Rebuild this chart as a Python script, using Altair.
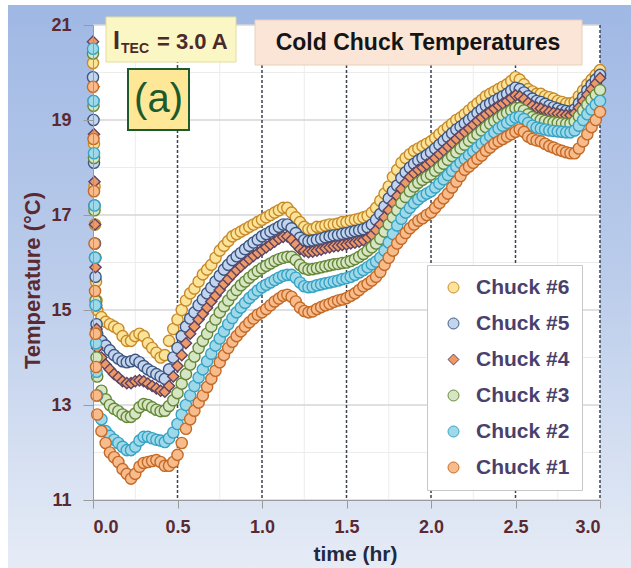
import altair as alt
import pandas as pd

# ---------------- data ----------------
series_names = ["Chuck #6", "Chuck #5", "Chuck #4", "Chuck #3", "Chuck #2", "Chuck #1"]
fill_colors = ["#fbe49a", "#c3d5ee", "#ee9a68", "#d6e6c2", "#9fd9e9", "#f7bb8c"]
stroke_colors = ["#c88a28", "#3d5680", "#5e4462", "#66873a", "#37a3c4", "#c46a26"]
shapes = ["circle", "circle", "diamond", "circle", "circle", "circle"]

start_times = [0.0, 0.003, 0.006, 0.009, 0.012, 0.015, 0.018, 0.021]
step_times = [round(0.025 * k, 3) for k in range(1, 121)]
times = start_times + step_times

chuck6 = [20.2, 19.4, 18.5, 17.6, 16.8, 16.1, 15.6, 15.2,
          15.0, 14.85, 14.75, 14.7, 14.65, 14.6, 14.45, 14.35, 14.35, 14.45,
          14.5, 14.45, 14.3, 14.2, 14.1, 14.0, 14.05, 14.35, 14.6, 14.8,
          15.0, 15.2, 15.35, 15.45, 15.6, 15.75, 15.85, 15.95, 16.1, 16.25,
          16.35, 16.45, 16.55, 16.6, 16.65, 16.7, 16.75, 16.8, 16.85, 16.9,
          16.95, 17.0, 17.05, 17.1, 17.15, 17.15, 17.05, 16.95, 16.85, 16.75,
          16.7, 16.7, 16.75, 16.75, 16.78, 16.8, 16.8, 16.82, 16.85, 16.85,
          16.88, 16.9, 16.92, 16.95, 16.98, 17.05, 17.15, 17.3, 17.45, 17.6,
          17.8, 17.95, 18.1, 18.2, 18.28, 18.35, 18.4, 18.45, 18.5, 18.55,
          18.62, 18.7, 18.78, 18.85, 18.92, 19.0, 19.05, 19.12, 19.2, 19.28,
          19.35, 19.42, 19.5, 19.55, 19.6, 19.65, 19.7, 19.75, 19.82, 19.9,
          19.85, 19.75, 19.65, 19.6, 19.55, 19.55, 19.5, 19.48, 19.45, 19.4,
          19.38, 19.35, 19.35, 19.38, 19.5, 19.62, 19.75, 19.85, 19.95, 20.05]

chuck5 = [19.9, 19.0, 18.1, 17.2, 16.4, 15.7, 15.1, 14.7,
          14.5, 14.35, 14.25, 14.15, 14.05, 13.98, 13.92, 13.9, 13.92, 13.95,
          13.9, 13.82, 13.75, 13.7, 13.65, 13.6, 13.55, 13.75, 14.0, 14.2,
          14.45, 14.65, 14.82, 14.95, 15.1, 15.22, 15.35, 15.47, 15.6, 15.72,
          15.85, 15.95, 16.05, 16.13, 16.2, 16.28, 16.35, 16.42, 16.48, 16.55,
          16.6, 16.65, 16.7, 16.75, 16.8, 16.8, 16.72, 16.62, 16.52, 16.47,
          16.45, 16.46, 16.48, 16.5, 16.53, 16.55, 16.57, 16.58, 16.6, 16.62,
          16.64, 16.66, 16.68, 16.7, 16.74, 16.8, 16.9, 17.02, 17.18, 17.35,
          17.5, 17.62, 17.78, 17.9, 18.0, 18.08, 18.15, 18.2, 18.26, 18.32,
          18.4, 18.48, 18.56, 18.64, 18.72, 18.8, 18.86, 18.93, 19.0, 19.07,
          19.15, 19.22, 19.3, 19.35, 19.4, 19.45, 19.5, 19.55, 19.62, 19.68,
          19.65, 19.58, 19.5, 19.45, 19.4, 19.38, 19.34, 19.3, 19.27, 19.24,
          19.21, 19.19, 19.18, 19.22, 19.35, 19.48, 19.62, 19.74, 19.85, 19.95]

chuck4 = [20.65, 19.7, 18.7, 17.7, 16.8, 15.9, 15.1, 14.6,
          14.2, 14.0, 13.85, 13.75, 13.65, 13.58, 13.5, 13.46, 13.46, 13.5,
          13.52, 13.5, 13.45, 13.4, 13.35, 13.3, 13.28, 13.4, 13.6, 13.82,
          14.05, 14.3, 14.5, 14.65, 14.8, 14.92, 15.05, 15.18, 15.3, 15.42,
          15.55, 15.65, 15.75, 15.84, 15.92, 16.0, 16.07, 16.14, 16.2, 16.26,
          16.32, 16.38, 16.44, 16.5, 16.54, 16.55, 16.48, 16.38, 16.28, 16.24,
          16.22, 16.23, 16.25, 16.27, 16.3, 16.32, 16.34, 16.35, 16.37, 16.38,
          16.4, 16.42, 16.44, 16.47, 16.52, 16.58, 16.68, 16.8, 16.95, 17.1,
          17.25, 17.4, 17.55, 17.68, 17.8, 17.88, 17.95, 18.0, 18.06, 18.12,
          18.2, 18.28, 18.36, 18.44, 18.52, 18.6, 18.68, 18.75, 18.82, 18.9,
          18.98, 19.05, 19.12, 19.18, 19.24, 19.3, 19.35, 19.4, 19.46, 19.52,
          19.5, 19.44, 19.36, 19.3, 19.26, 19.24, 19.2, 19.17, 19.15, 19.13,
          19.11, 19.1, 19.1, 19.14, 19.26, 19.4, 19.53, 19.65, 19.77, 19.88]

chuck3 = [20.4, 19.3, 18.2, 17.1, 16.1, 15.2, 14.5, 14.0,
          13.6, 13.3, 13.12, 13.0, 12.92, 12.87, 12.8, 12.75, 12.75, 12.82,
          12.95, 13.02, 13.0, 12.95, 12.9, 12.87, 12.88, 12.98, 13.1, 13.25,
          13.45, 13.65, 13.85, 14.02, 14.2, 14.35, 14.5, 14.65, 14.8, 14.95,
          15.08, 15.2, 15.32, 15.42, 15.52, 15.6, 15.68, 15.75, 15.82, 15.88,
          15.93, 15.98, 16.03, 16.07, 16.1, 16.12, 16.12, 16.05, 15.95, 15.88,
          15.85, 15.86, 15.88, 15.9, 15.92, 15.94, 15.96, 15.97, 15.99, 16.0,
          16.03, 16.07, 16.12, 16.18, 16.25, 16.32, 16.4, 16.5, 16.65, 16.8,
          16.95, 17.1, 17.25, 17.38, 17.5, 17.6, 17.68, 17.74, 17.8, 17.85,
          17.93, 18.0, 18.08, 18.16, 18.24, 18.32, 18.4, 18.48, 18.56, 18.63,
          18.7, 18.78, 18.85, 18.92, 18.98, 19.04, 19.1, 19.15, 19.2, 19.25,
          19.25, 19.2, 19.12, 19.06, 19.02, 19.0, 18.98, 18.96, 18.95, 18.94,
          18.93, 18.92, 18.92, 18.97, 19.08, 19.2, 19.32, 19.43, 19.53, 19.63]

chuck2 = [20.5, 19.4, 18.3, 17.2, 16.1, 15.1, 14.3, 13.7,
          13.2, 12.7, 12.45, 12.35, 12.27, 12.2, 12.12, 12.05, 12.05, 12.12,
          12.25, 12.33, 12.33, 12.3, 12.27, 12.25, 12.22, 12.3, 12.42, 12.6,
          12.8, 13.0, 13.2, 13.4, 13.58, 13.75, 13.92, 14.08, 14.25, 14.4,
          14.55, 14.7, 14.83, 14.95, 15.05, 15.15, 15.25, 15.33, 15.41, 15.48,
          15.53, 15.58, 15.63, 15.68, 15.72, 15.74, 15.74, 15.68, 15.58, 15.5,
          15.48, 15.49, 15.52, 15.54, 15.56, 15.58, 15.6, 15.62, 15.65, 15.67,
          15.7, 15.74, 15.79, 15.84, 15.9, 15.96, 16.02, 16.1, 16.25, 16.42,
          16.6, 16.78, 16.92, 17.05, 17.15, 17.25, 17.33, 17.4, 17.45, 17.5,
          17.58, 17.66, 17.75, 17.84, 17.93, 18.02, 18.1, 18.18, 18.26, 18.34,
          18.42, 18.5, 18.58, 18.66, 18.74, 18.82, 18.88, 18.94, 19.0, 19.05,
          19.07, 19.02, 18.94, 18.88, 18.84, 18.82, 18.8, 18.78, 18.77, 18.76,
          18.75, 18.74, 18.74, 18.78, 18.88, 19.0, 19.12, 19.22, 19.32, 19.4]

chuck1 = [19.7, 18.6, 17.5, 16.4, 15.4, 14.5, 13.8, 13.2,
          12.8, 12.45, 12.2, 12.0, 11.9, 11.8, 11.65, 11.55, 11.45, 11.55,
          11.7, 11.78, 11.8, 11.82, 11.84, 11.8, 11.72, 11.72, 11.8, 11.95,
          12.2, 12.5, 12.7, 12.88, 13.05, 13.2, 13.38, 13.55, 13.72, 13.9,
          14.05, 14.2, 14.33, 14.45, 14.55, 14.65, 14.74, 14.82, 14.9, 14.95,
          15.02, 15.1, 15.18, 15.24, 15.3, 15.32, 15.28, 15.18, 15.05, 14.98,
          14.95, 14.97, 15.02, 15.06, 15.1, 15.13, 15.17, 15.2, 15.22, 15.25,
          15.3, 15.35, 15.42, 15.5, 15.55, 15.62, 15.7, 15.8, 15.95, 16.1,
          16.25, 16.4, 16.5, 16.62, 16.72, 16.8, 16.88, 16.93, 17.0, 17.05,
          17.15, 17.25, 17.35, 17.45, 17.58, 17.7, 17.82, 17.95, 18.02, 18.1,
          18.18, 18.25, 18.35, 18.42, 18.5, 18.55, 18.6, 18.65, 18.7, 18.75,
          18.8, 18.75, 18.65, 18.6, 18.57, 18.55, 18.5, 18.45, 18.42, 18.38,
          18.35, 18.32, 18.3, 18.3, 18.4, 18.55, 18.7, 18.85, 19.0, 19.17]

x_ticks = [0.0, 0.5, 1.0, 1.5, 2.0, 2.5, 3.0]
x_dashed = [0.5, 1.0, 1.5, 2.0, 2.5, 3.0]
x_minor = [0.25, 0.75, 1.25, 1.75, 2.25, 2.75]
y_ticks = [11, 13, 15, 17, 19, 21]
y_minor = [12, 14, 16, 18, 20]

rows = []
for name, vals in zip(series_names, [chuck6, chuck5, chuck4, chuck3, chuck2, chuck1]):
    for t, v in zip(times, vals):
        rows.append({"time": t, "temp": v, "chuck": name})
df = pd.DataFrame(rows)

# ---------------- chart ----------------
W, H = 507, 475
FONT = "Liberation Sans"
MAROON = "#5a2a30"
xscale = alt.Scale(domain=[0, 3], nice=False, zero=False)
yscale = alt.Scale(domain=[11, 21], nice=False, zero=False)
one = pd.DataFrame({"k": [0]})

x_axis = alt.Axis(
    values=x_ticks, format=".1f", grid=False, zindex=1,
    labelFont=FONT, labelFontSize=18, labelFontWeight="bold", labelColor=MAROON,
    labelPadding=10, tickSize=8, tickColor="#9a9a9a", domainColor="#9a9a9a",
    title="time (hr)", titleFont=FONT, titleFontSize=21, titleFontWeight="bold",
    titleColor="#1f2a44", titlePadding=7, titleX=262)
y_axis = alt.Axis(
    values=y_ticks, format="d", grid=False, zindex=1,
    labelFont=FONT, labelFontSize=18, labelFontWeight="bold", labelColor=MAROON,
    labelPadding=12, tickSize=10, tickColor="#9a9a9a", domainColor="#9a9a9a",
    title="Temperature (°C)", titleFont=FONT, titleFontSize=22, titleFontWeight="bold",
    titleColor=MAROON, titlePadding=6, titleY=255)

bg = alt.Chart(one).mark_rect(
    fill=alt.LinearGradient(
        gradient="linear",
        stops=[alt.GradientStop(color="#9fb8e4", offset=0),
               alt.GradientStop(color="#bccdeb", offset=0.5),
               alt.GradientStop(color="#e6ecf6", offset=1)],
        x1=0, x2=0, y1=0, y2=1)
).encode(x=alt.value(-85), x2=alt.value(538), y=alt.value(-20), y2=alt.value(543))

plot_bg = alt.Chart(one).mark_rect(fill="white").encode(
    x=alt.value(0), x2=alt.value(W), y=alt.value(0), y2=alt.value(H))


def vrules(vals, **kw):
    return alt.Chart(pd.DataFrame({"time": vals})).mark_rule(**kw).encode(
        x=alt.X("time:Q", scale=xscale, axis=x_axis))


def hrules(vals, **kw):
    return alt.Chart(pd.DataFrame({"temp": vals})).mark_rule(**kw).encode(
        y=alt.Y("temp:Q", scale=yscale, axis=y_axis))


grid_y_minor = hrules(y_minor, color="#ececec", strokeWidth=1)
grid_x_minor = vrules(x_minor, color="#ececec", strokeWidth=1)
grid_y_major = hrules(y_ticks, color="#d6d6d6", strokeWidth=1.5)
grid_x_dash = vrules(x_dashed, color="#3c4250", strokeWidth=1.5, strokeDash=[3, 2])

legend = alt.Legend(
    title=None, orient="none", legendX=334, legendY=240,
    fillColor="white", strokeColor="#c8c8c8", padding=12,
    labelFont=FONT, labelFontSize=21, labelFontWeight="bold", labelColor="#4b3f6b",
    symbolSize=120, symbolStrokeWidth=1, rowPadding=14, labelOffset=12,
    symbolOffset=4, zindex=1)

points = alt.Chart(df).mark_point(size=125, strokeWidth=1.4, opacity=1, fillOpacity=1).encode(
    x=alt.X("time:Q", scale=xscale, axis=x_axis),
    y=alt.Y("temp:Q", scale=yscale, axis=y_axis),
    fill=alt.Fill("chuck:N", scale=alt.Scale(domain=series_names, range=fill_colors), legend=legend),
    stroke=alt.Stroke("chuck:N", scale=alt.Scale(domain=series_names, range=stroke_colors), legend=legend),
    shape=alt.Shape("chuck:N", scale=alt.Scale(domain=series_names, range=shapes), legend=legend),
)


def box(x1, y1, x2, y2, fill, stroke, sw=1):
    return alt.Chart(one).mark_rect(fill=fill, stroke=stroke, strokeWidth=sw).encode(
        x=alt.value(x1), x2=alt.value(x2), y=alt.value(y1), y2=alt.value(y2))


def label(txt, x, y, size, color, weight="bold", align="left"):
    return alt.Chart(one).mark_text(
        text=txt, font=FONT, fontSize=size, fontWeight=weight, color=color,
        align=align, baseline="alphabetic").encode(x=alt.value(x), y=alt.value(y))


itec_box = box(13, -8, 143, 37, "#fbf7c4", "#e3dc9c")
itec_i = label("I", 20, 23.5, 25, "#4b2a2a")
itec_sub = label("TEC", 28, 28, 14, "#4b2a2a")
itec_val = label("= 3.0 A", 64, 23.5, 22, "#4b2a2a")

title_box = box(162, -5, 489, 40, "#fbe5d6", "#e8cfbc")
title_txt = label("Cold Chuck Temperatures", 325, 24.5, 23, "#151515", align="center")

a_box = box(35, 44, 96, 105, "#fee898", "#1d5a2d", 2)
a_txt = label("(a)", 65.5, 87, 40, "#1d5a2b", weight="normal", align="center")

chart = alt.layer(
    bg, plot_bg, grid_y_minor, grid_x_minor, grid_y_major, grid_x_dash, points,
    itec_box, itec_i, itec_sub, itec_val, title_box, title_txt, a_box, a_txt
).properties(
    width=W, height=H,
    autosize=alt.AutoSizeParams(type="none"),
    padding={"left": 93, "top": 25, "right": 31, "bottom": 68},
    background="white",
).configure_view(strokeWidth=0)

chart.save("out.html", embed_options={"renderer": "svg", "actions": False})
